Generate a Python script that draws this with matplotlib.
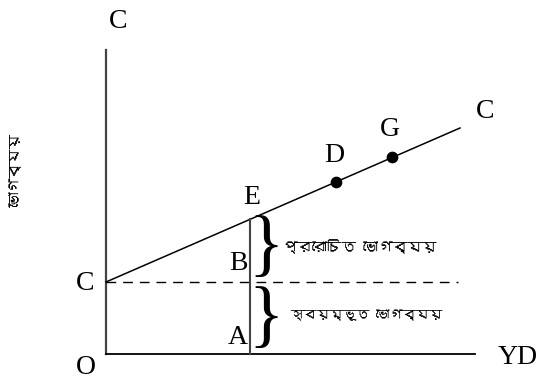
import matplotlib
matplotlib.use("Agg")
import matplotlib.pyplot as plt
from matplotlib import font_manager
from matplotlib.ft2font import FT2Font

# consumption function points (YD, C) in chart units, origin at O
line_x = [0, 354]
line_y = [72, 226]
point_x = [230, 286]
point_y = [172, 197]
point_labels = ["D", "G"]
e_x = 144
e_y = 135
autonomous = 72
x_axis_end = 369
y_axis_end = 304
dash_end = 352
induced_label = "প্ররোচিত ভোগব্যয়"
autonomous_label = "স্বয়ম্ভূত ভোগব্যয়"
y_label = "ভোগব্যয়"

# find any installed font that has bengali glyphs
bengali = None
for f in font_manager.fontManager.ttflist:
    try:
        if 0x09AD in FT2Font(f.fname).get_charmap():
            bengali = f.name
            break
    except Exception:
        pass
bn_family = [bengali, "DejaVu Sans"] if bengali else ["DejaVu Sans"]

serif = "Liberation Serif"

fig = plt.figure(figsize=(5.43, 3.85), dpi=100)
ax = fig.add_axes([0, 0, 1, 1])
ax.set_xlim(-106, 437)
ax.set_ylim(-31, 354)
ax.axis("off")

axis_col = "#444444"
ax.plot([0, 0], [0, y_axis_end], color=axis_col, lw=1.6)
ax.plot([0, x_axis_end], [0, 0], color="black", lw=1.3)
ax.plot(line_x, line_y, color="black", lw=1.1)
ax.plot([0, dash_end], [autonomous, autonomous], color="black", lw=1.0,
        dashes=(7, 5))
ax.plot([e_x, e_x], [0, e_y], color=axis_col, lw=1.5)
ax.scatter(point_x, point_y, s=55, color="black", zorder=3)

fs = 20
ax.text(12, 332, "C", fontsize=fs, family=serif, ha="center", va="center")
ax.text(-21, 71, "C", fontsize=fs, family=serif, ha="center", va="center")
ax.text(-20, -14, "O", fontsize=fs, family=serif, ha="center", va="center")
ax.text(412, -4, "YD", fontsize=fs, family=serif, ha="center", va="center")
ax.text(379, 242, "C", fontsize=fs, family=serif, ha="center", va="center")
for x, y, lab in zip(point_x, point_y, point_labels):
    ax.text(x - 2, y + 27, lab, fontsize=fs, family=serif, ha="center", va="center")
ax.text(e_x + 2, 156, "E", fontsize=fs, family=serif, ha="center", va="center")
ax.text(e_x - 12, 90, "B", fontsize=fs, family=serif, ha="center", va="center")
ax.text(e_x - 12, 16, "A", fontsize=fs, family=serif, ha="center", va="center")

# braces
ax.text(e_x + 16, (e_y + autonomous) / 2 + 1, "}", fontsize=53, family=serif,
        ha="center", va="center")
ax.text(e_x + 16, autonomous / 2 - 2, "}", fontsize=53, family=serif,
        ha="center", va="center")

ax.text(e_x + 33, 107, induced_label, fontsize=10.5, family=bn_family,
        ha="left", va="center")
ax.text(e_x + 40, 39, autonomous_label, fontsize=9.5, family=bn_family,
        ha="left", va="center")
ax.text(-90, 184, y_label, fontsize=10.5, family=bn_family, rotation=90,
        ha="center", va="center")

fig.savefig("out.png", dpi=100)
